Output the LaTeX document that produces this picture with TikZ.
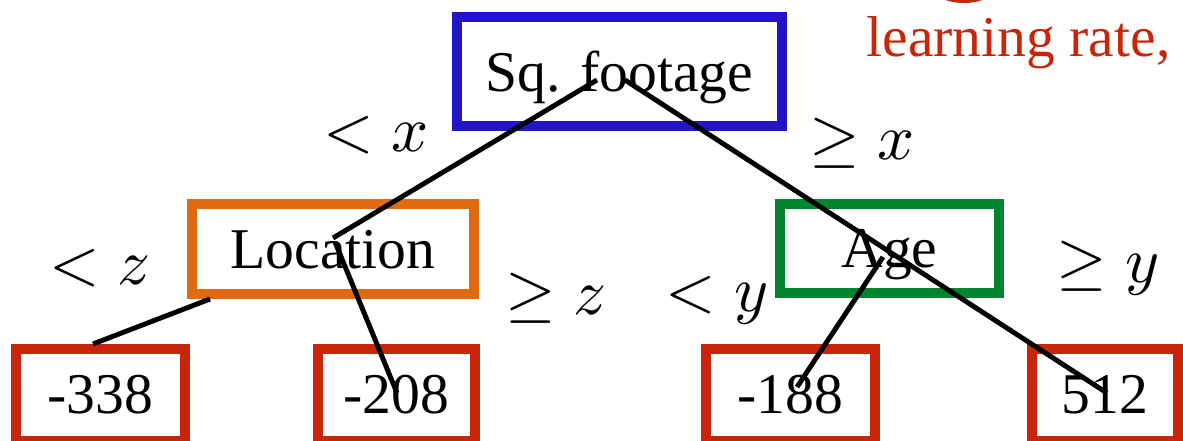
\documentclass[tikz,border=0pt]{standalone}
\usepackage{graphicx}
\usepackage{fontspec}
\setmainfont{Liberation Serif}
\usetikzlibrary{positioning,calc}
\definecolor{SplitBlue}{RGB}{35,20,198}
\definecolor{SplitOrange}{RGB}{224,106,16}
\definecolor{SplitGreen}{RGB}{0,134,46}
\definecolor{LeafRed}{RGB}{200,38,10}
\newcommand{\bigcond}[1]{\scalebox{3.7}{\fontsize{10}{12}\selectfont$#1$}}

\begin{document}
\begin{tikzpicture}[every node/.style={font=\fontsize{32.8}{38}\selectfont, inner sep=0pt},
  split/.style={draw, line width=5.7pt, text depth=0pt},
  leaf/.style={draw=LeafRed, line width=5.7pt, minimum height=1.84cm},
  edge/.style={line width=2.8pt}]
  \clip (0,0) rectangle (23.66,8.8);

  % splits
  \node[split, draw=SplitBlue, minimum width=6.5cm, minimum height=2.18cm] (sq) at (12.39,7.37) {Sq. footage};
  \node[split, draw=SplitOrange, minimum width=5.64cm, minimum height=1.8cm] (loc) at (6.66,3.82) {Location};
  \node[split, draw=SplitGreen, minimum width=4.38cm, minimum height=1.78cm] (age) at (17.79,3.83) {Age};

  % leaves
  \node[leaf, minimum width=3.38cm] (lf1) at (2.01,0.90) {-338};
  \node[leaf, minimum width=3.14cm] (lf2) at (7.93,0.90) {-208};
  \node[leaf, minimum width=3.38cm] (lf3) at (15.81,0.90) {-188};
  \node[leaf, minimum width=2.92cm] (lf4) at (22.10,0.90) {512};

  % thresholds
  \node (cx1) at (7.52,6.10) {\bigcond{<x}};
  \node (cx2) at (17.24,5.94) {\bigcond{\geq x}};
  \node (cz1) at (2.00,3.44) {\bigcond{<z}};
  \node (cz2) at (11.12,2.84) {\bigcond{\geq z}};
  \node (cy1) at (14.34,2.80) {\bigcond{<y}};
  \node (cy2) at (22.16,3.44) {\bigcond{\geq y}};

  \node[anchor=base, text=LeafRed] (lr) at (20.37,7.66) {learning rate,};
  \draw[LeafRed, line width=3.4pt] (19.28,9.16) ellipse (0.65 and 0.36);

  \draw[edge] ($(sq.center)+(-0.45,-0.17)$) -- ($(loc.center)+(0,0.22)$);
  \draw[edge] ($(sq.center)+(0.11,-0.17)$) -- ($(lf4.center)+(0.04,0.04)$);
  \draw[edge] ($(loc.center)+(0.04,0.14)$) -- ($(lf2.center)+(0.01,0.04)$);
  \draw[edge] ($(loc.south)+(-2.46,0)$) -- ($(lf1.north)+(-0.15,0)$);
  \draw[edge] ($(age.center)+(-0.13,-0.17)$) -- ($(lf3.center)+(0.13,0.16)$);
\end{tikzpicture}
\end{document}
